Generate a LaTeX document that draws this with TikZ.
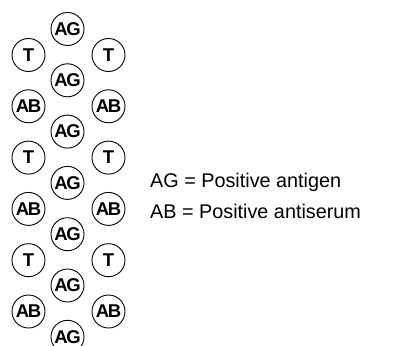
\documentclass[tikz,border=0pt]{standalone}
\usepackage{fontspec}
\setmainfont{Liberation Sans}
\begin{document}
\begin{tikzpicture}[x=1pt,y=-1pt,
  well/.style={circle,draw=black,line width=0.9pt,minimum size=33pt,inner sep=0pt,
    font=\fontsize{18.5}{18.5}\selectfont\bfseries\addfontfeature{LetterSpace=-7}},
  legend/.style={anchor=base west,inner sep=0pt,font=\fontsize{19.8}{22}\selectfont}]
\useasboundingbox (0,0) rectangle (393,345);
\clip (0,0) rectangle (393,345);
% centre column of antigen wells
\foreach \k in {0,...,6}
  \node[well] (ag\k) at (67.5,{29+51.3*\k}) {AG};
% side columns: test sera and antiserum wells, alternating
\foreach \k/\lab in {0/T,1/AB,2/T,3/AB,4/T,5/AB}{
  \node[well] (l\k) at (28.5,{55+51.3*\k}) {\lab};
  \node[well] (r\k) at (108.5,{55+51.3*\k}) {\lab};
}
% key
\node[legend] (keyag) at (150,187) {AG = Positive antigen};
\node[legend] (keyab) at (150,218) {AB = Positive antiserum};
\end{tikzpicture}
\end{document}
